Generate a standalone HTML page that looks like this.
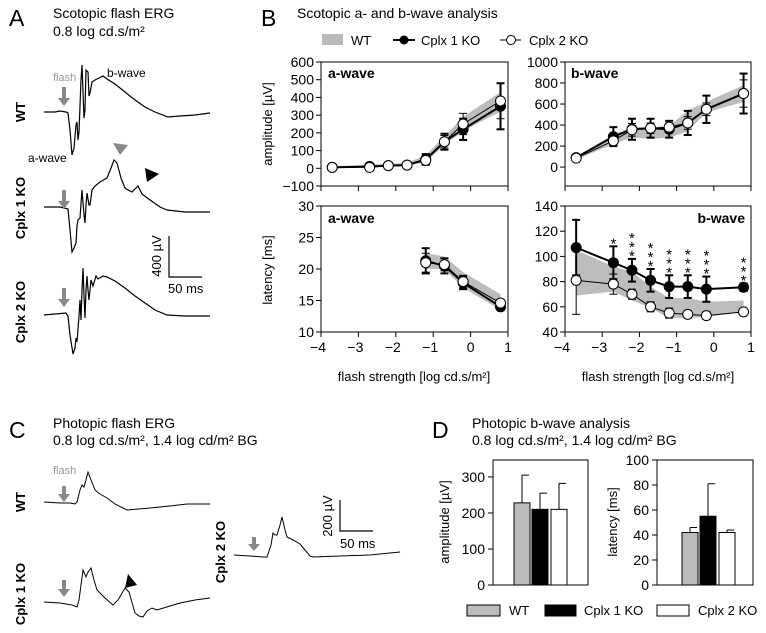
<!DOCTYPE html>
<html><head><meta charset="utf-8">
<style>
html,body{margin:0;padding:0;background:#fff;}
svg{display:block;font-family:"Liberation Sans",Arial,sans-serif;}
</style></head>
<body>
<svg id="fig" width="766" height="633" viewBox="0 0 766 633" xmlns="http://www.w3.org/2000/svg">
<!-- Panel A -->
<g>
<text x="9" y="26" font-size="23">A</text>
<text x="53" y="18" font-size="14">Scotopic flash ERG</text>
<text x="53" y="36" font-size="14">0.8 log cd.s/m²</text>
<text x="53" y="81" font-size="11" fill="#999">flash</text>
<text x="107" y="77" font-size="12">b-wave</text>
<text x="28" y="162" font-size="12">a-wave</text>
<text transform="translate(25,112) rotate(-90)" text-anchor="middle" font-size="13" font-weight="bold">WT</text>
<text transform="translate(25,208) rotate(-90)" text-anchor="middle" font-size="13" font-weight="bold">Cplx 1 KO</text>
<text transform="translate(25,312) rotate(-90)" text-anchor="middle" font-size="13" font-weight="bold">Cplx 2 KO</text>
<polyline fill="none" stroke="#000" stroke-width="1.2" points="44,112 55,112 60,111 66,112 68,113 70,130 72,155 74,148 76,125 77,122 78,140 79,132 81,80 82,65 84,118 85,110 86,70 88,72 89,96 90,93 92,82 95,80 99,78 103,76 107,79 115,84 125,92 135,100 145,107 155,112 168,117 180,116 195,115 210,113"/>
<polyline fill="none" stroke="#000" stroke-width="1.2" points="44,207 60,207 68,209 70,230 72,252 74,248 76,243 77,226 78,220 80,218 82,190 84,215 85,223 86,205 87,193 89,205 90,205 92,190 95,186 100,182 107,178 111,168 114,160 117,163 121,178 125,188 128,190 132,192 135,189 138,186 142,194 150,200 160,207 167,210 185,212 210,212"/>
<polyline fill="none" stroke="#000" stroke-width="1.2" points="44,315 55,314 66,313 68,316 70,335 73,354 75,348 76,338 77,342 79,316 80,300 81,320 82,290 83,268 84,296 85,318 86,290 87,276 88,290 89,300 91,280 93,286 96,276 98,279 103,276 107,277 115,281 125,288 135,296 145,303 155,310 167,315 185,316 210,316"/>
<g fill="#888">
<path d="M62,87 h4 v11 h4 l-6,8 l-6,-8 h4z"/>
<path d="M62,190 h4 v11 h4 l-6,8 l-6,-8 h4z"/>
<path d="M62,288 h4 v11 h4 l-6,8 l-6,-8 h4z"/>
</g>
<path d="M113,143 l15,2 l-8,10z" fill="#888"/>
<path d="M145,168 l14,6 l-12,8z" fill="#000"/>
<path d="M169,236 V277 H202" fill="none" stroke="#000" stroke-width="1.2"/>
<text transform="translate(161,256) rotate(-90)" text-anchor="middle" font-size="13">400 µV</text>
<text x="168" y="293" font-size="13">50 ms</text>
</g>

<!-- Panel B -->
<g id="panelB">
<text x="261" y="26" font-size="23">B</text>
<text x="297" y="18" font-size="14">Scotopic a- and b-wave analysis</text>
<g>
<rect x="322" y="34" width="21" height="11" fill="#bbb"/>
<text x="351" y="45" font-size="13">WT</text>
<line x1="393" y1="40" x2="415" y2="40" stroke="#000" stroke-width="2"/>
<circle cx="404" cy="40" r="4.5" fill="#000"/>
<text x="421" y="45" font-size="13">Cplx 1 KO</text>
<line x1="500" y1="40" x2="521" y2="40" stroke="#000" stroke-width="1"/>
<circle cx="511" cy="40" r="4.5" fill="#fff" stroke="#000"/>
<text x="529" y="45" font-size="13">Cplx 2 KO</text>
</g>
<text transform="translate(272,124) rotate(-90)" text-anchor="middle" font-size="13">amplitude [µV]</text>
<text transform="translate(272,270) rotate(-90)" text-anchor="middle" font-size="13">latency [ms]</text>
<text x="414" y="381" text-anchor="middle" font-size="13">flash strength [log cd.s/m²]</text>
<text x="658" y="381" text-anchor="middle" font-size="13">flash strength [log cd.s/m²]</text>
</g>

<!-- Panel C -->
<g>
<text x="9" y="438" font-size="23">C</text>
<text x="53" y="428" font-size="14">Photopic flash ERG</text>
<text x="53" y="445" font-size="14">0.8 log cd.s/m², 1.4 log cd/m² BG</text>
<text x="53" y="474" font-size="11" fill="#999">flash</text>
<text transform="translate(25,502) rotate(-90)" text-anchor="middle" font-size="13" font-weight="bold">WT</text>
<text transform="translate(25,594) rotate(-90)" text-anchor="middle" font-size="13" font-weight="bold">Cplx 1 KO</text>
<text transform="translate(225,552) rotate(-90)" text-anchor="middle" font-size="13" font-weight="bold">Cplx 2 KO</text>
<polyline fill="none" stroke="#000" stroke-width="1" points="44,502 60,503 70,503 75,504 77,502 80,490 82,485 84,487 86,480 88,472 91,480 95,490 100,494 107,498 115,504 127,510 150,508 170,506 187,504 210,504"/>
<polyline fill="none" stroke="#000" stroke-width="1" points="44,602 60,603 72,605 77,607 79,600 83,570 86,577 88,572 91,568 94,580 97,590 105,598 113,605 118,600 125,588 129,592 135,613 139,616 143,617 147,611 152,608 157,610 170,606 180,603 195,600 210,598"/>
<polyline fill="none" stroke="#000" stroke-width="1" points="234,555 250,556 263,557 267,557 271,545 273,533 275,535 277,535 280,525 282,517 285,530 287,537 293,540 300,544 305,550 310,556 313,557 340,556 370,555 400,552"/>
<g fill="#888">
<path d="M62,486 h4 v8 h4 l-6,8 l-6,-8 h4z"/>
<path d="M62,580 h4 v9 h4 l-6,8 l-6,-8 h4z"/>
<path d="M252,537 h4 v7 h4 l-6,7 l-6,-7 h4z"/>
</g>
<path d="M128,574 l9,11 l-12,3z" fill="#000"/>
<path d="M340,500 V531 H373" fill="none" stroke="#000" stroke-width="1.2"/>
<text transform="translate(332,516) rotate(-90)" text-anchor="middle" font-size="13">200 µV</text>
<text x="340" y="548" font-size="13">50 ms</text>
</g>

<!-- Panel D -->
<g id="panelD">
<text x="432" y="438" font-size="23">D</text>
<text x="472" y="428" font-size="14">Photopic b-wave analysis</text>
<text x="472" y="445" font-size="14">0.8 log cd.s/m², 1.4 log cd/m² BG</text>
<text transform="translate(449,522) rotate(-90)" text-anchor="middle" font-size="13">amplitude [µV]</text>
<text transform="translate(617,522) rotate(-90)" text-anchor="middle" font-size="13">latency [ms]</text>
<g>
<rect x="467" y="605" width="33" height="11" fill="#bbb" stroke="#000"/>
<text x="509" y="615" font-size="13">WT</text>
<rect x="545" y="605" width="31" height="11" fill="#000" stroke="#000"/>
<text x="584" y="615" font-size="13">Cplx 1 KO</text>
<rect x="657" y="605" width="32" height="11" fill="#fff" stroke="#000"/>
<text x="698" y="615" font-size="13">Cplx 2 KO</text>
</g>
</g>
</svg>
<script>
// ---- Panel B data ----
const xFlash = [-3.7, -2.7, -2.2, -1.7, -1.2, -0.7, -0.2, 0.8];
const xTicks = [-4, -3, -2, -1, 0, 1];
const xTickLabels = ["\u22124", "\u22123", "\u22122", "\u22121", "0", "1"];
// a-wave amplitude
const aAmpC1 = [5, 10, 15, 18, 50, 150, 220, 350];
const aAmpC1Err = [5, 10, 8, 8, 30, 45, 60, 130];
const aAmpC2 = [5, 5, 15, 18, 45, 150, 250, 380];
const aAmpC2Err = [5, 8, 8, 8, 25, 35, 60, 100];
const aAmpWtHi = [10, 20, 25, 30, 75, 180, 290, 430];
const aAmpWtLo = [0, 5, 10, 15, 35, 130, 210, 320];
const aAmpTicks = [600, 500, 400, 300, 200, 100, 0, -100];
// b-wave amplitude
const bAmpC1 = [90, 290, 360, 370, 360, 420, 550, 700];
const bAmpC1Err = [20, 90, 100, 90, 80, 115, 130, 190];
const bAmpC2 = [85, 250, 355, 370, 380, 420, 550, 700];
const bAmpC2Err = [20, 40, 60, 50, 40, 60, 60, 130];
const bAmpWtHi = [100, 310, 380, 380, 390, 540, 620, 780];
const bAmpWtLo = [70, 220, 280, 270, 280, 340, 520, 620];
const bAmpTicks = [1000, 800, 600, 400, 200, 0];
// a-wave latency (last four intensities)
const aLatX = [-1.2, -0.7, -0.2, 0.8];
const aLatC1 = [21.3, 20.5, 17.8, 14.0];
const aLatC1Err = [2.0, 1.2, 1.0, 0.5];
const aLatC2 = [21.0, 20.7, 18.0, 14.6];
const aLatC2Err = [1.5, 1.0, 1.0, 0.5];
const aLatWtHi = [22.5, 22.0, 19.5, 16.0];
const aLatWtLo = [20.0, 20.0, 17.0, 13.5];
const aLatTicks = [30, 25, 20, 15, 10];
// b-wave latency
const bLatC1 = [107, 95, 89, 81, 76, 76, 74, 75.5];
const bLatC1Err = [22, 13, 9, 9, 9, 9, 10, 3];
const bLatC2 = [81, 78, 70, 60, 55, 54, 53, 56];
const bLatC2Err = [27, 8, 4, 4, 4, 3, 3, 2];
const bLatWtHi = [105, 92, 88, 76, 67, 67, 64, 65];
const bLatWtLo = [69, 72, 65, 59, 51, 51, 52, 56];
const bLatStars = [0, 1, 3, 3, 3, 3, 3, 3];
const bLatTicks = [140, 120, 100, 80, 60, 40];
// ---- Panel D data ----
const dGroups = ["WT", "Cplx 1 KO", "Cplx 2 KO"];
const dAmp = [228, 210, 210];
const dAmpErr = [77, 45, 72];
const dLat = [42, 55, 42];
const dLatErr = [4, 26, 2];
const dAmpTicks = [0, 100, 200, 300];
const dLatTicks = [0, 20, 40, 60, 80, 100];

const NS = "http://www.w3.org/2000/svg";
const svg = document.getElementById('fig');
function mk(tag, attrs, parent) {
  const e = document.createElementNS(NS, tag);
  for (const k in attrs) e.setAttribute(k, attrs[k]);
  (parent || svg).appendChild(e);
  return e;
}
function axis(x0, x1, y0, y1, xmin, xmax, ymin, ymax) {
  return {
    sx: v => x0 + (v - xmin) / (xmax - xmin) * (x1 - x0),
    sy: v => y1 - (v - ymin) / (ymax - ymin) * (y1 - y0),
    x0, x1, y0, y1
  };
}
function frame(ax, yTicks, showXLabels, name) {
  const g = mk('g', {});
  
  
  const r = mk('rect', {x: ax.x0, y: ax.y0, width: ax.x1 - ax.x0, height: ax.y1 - ax.y0, fill: 'none', stroke: '#000', 'stroke-width': 1}, g);
  
  
  yTicks.forEach(t => {
    const y = ax.sy(t);
    mk('line', {x1: ax.x0 - 5, x2: ax.x0, y1: y, y2: y, stroke: '#000'}, g);
    const tx = mk('text', {x: ax.x0 - 7, y: y + 5, 'text-anchor': 'end', 'font-size': 14}, g);
    tx.textContent = t < 0 ? '\u2212' + Math.abs(t) : String(t);
    
    
  });
  xTicks.forEach((t, i) => {
    const x = ax.sx(t);
    mk('line', {x1: x, x2: x, y1: ax.y1, y2: ax.y1 + 5, stroke: '#000'}, g);
    if (showXLabels) {
      const tx = mk('text', {x: x - (t < 0 ? 3 : 0), y: ax.y1 + 20, 'text-anchor': 'middle', 'font-size': 14}, g);
      tx.textContent = xTickLabels[i];
      
      
    }
  });
  return g;
}
function band(ax, xs, hi, lo, name) {
  let pts = xs.map((x, i) => ax.sx(x) + ',' + ax.sy(hi[i]));
  for (let i = xs.length - 1; i >= 0; i--) pts.push(ax.sx(xs[i]) + ',' + ax.sy(lo[i]));
  const p = mk('polygon', {points: pts.join(' '), fill: '#bdbdbd'});
  
  
}
function series(ax, xs, ys, errs, filled, name) {
  const g = mk('g', {});
  
  
  const sw = filled ? 2 : 1;
  mk('polyline', {points: xs.map((x, i) => ax.sx(x) + ',' + ax.sy(ys[i])).join(' '), fill: 'none', stroke: '#000', 'stroke-width': sw}, g);
  xs.forEach((x, i) => {
    const cx = ax.sx(x), t = ax.sy(ys[i] + errs[i]), b = ax.sy(ys[i] - errs[i]);
    mk('line', {x1: cx, x2: cx, y1: t, y2: b, stroke: '#000', 'stroke-width': sw}, g);
    mk('line', {x1: cx - 4, x2: cx + 4, y1: t, y2: t, stroke: '#000', 'stroke-width': sw}, g);
    mk('line', {x1: cx - 4, x2: cx + 4, y1: b, y2: b, stroke: '#000', 'stroke-width': sw}, g);
  });
  xs.forEach((x, i) => {
    const c = mk('circle', {cx: ax.sx(x), cy: ax.sy(ys[i]), r: 5, fill: filled ? '#000' : '#fff', stroke: '#000', 'stroke-width': 1}, g);
    
    
  });
}
// Panel B subplots
const axAA = axis(321, 508, 62, 186, -4, 1, -100, 600);
const axBA = axis(565, 751, 62, 186, -4, 1, -180, 1000);
const axAL = axis(321, 508, 206, 332, -4, 1, 10, 30);
const axBL = axis(565, 751, 206, 332, -4, 1, 40, 140);

band(axAA, xFlash, aAmpWtHi, aAmpWtLo, 'a-amp-wt-band');
series(axAA, xFlash, aAmpC1, aAmpC1Err, true, 'a-amp-cplx1');
series(axAA, xFlash, aAmpC2, aAmpC2Err, false, 'a-amp-cplx2');
frame(axAA, aAmpTicks, false, 'a-amplitude-plot');

band(axBA, xFlash, bAmpWtHi, bAmpWtLo, 'b-amp-wt-band');
series(axBA, xFlash, bAmpC1, bAmpC1Err, true, 'b-amp-cplx1');
series(axBA, xFlash, bAmpC2, bAmpC2Err, false, 'b-amp-cplx2');
frame(axBA, bAmpTicks, false, 'b-amplitude-plot');

band(axAL, aLatX, aLatWtHi, aLatWtLo, 'a-lat-wt-band');
series(axAL, aLatX, aLatC1, aLatC1Err, true, 'a-lat-cplx1');
series(axAL, aLatX, aLatC2, aLatC2Err, false, 'a-lat-cplx2');
frame(axAL, aLatTicks, true, 'a-latency-plot');

band(axBL, xFlash, bLatWtHi, bLatWtLo, 'b-lat-wt-band');
series(axBL, xFlash, bLatC1, bLatC1Err, true, 'b-lat-cplx1');
series(axBL, xFlash, bLatC2, bLatC2Err, false, 'b-lat-cplx2');
frame(axBL, bLatTicks, true, 'b-latency-plot');

bLatStars.forEach((n, i) => {
  for (let k = 0; k < n; k++) {
    const s = mk('text', {x: axBL.sx(xFlash[i]), y: axBL.sy(bLatC1[i] + bLatC1Err[i]) + 2 - k * 9, 'text-anchor': 'middle', 'font-size': 15});
    s.textContent = '*';
    
    
  }
});

function label(x, y, txt, anchor, name) {
  const t = mk('text', {x, y, 'font-size': 14, 'font-weight': 'bold', 'text-anchor': anchor});
  t.textContent = txt;
  
  
}
label(328, 78, 'a-wave', 'start', 'a-amp-title');
label(571, 78, 'b-wave', 'start', 'b-amp-title');
label(328, 223, 'a-wave', 'start', 'a-lat-title');
label(745, 223, 'b-wave', 'end', 'b-lat-title');

// Panel D bar charts
const barFills = ['#bbb', '#000', '#fff'];
function barChart(ax, vals, errs, ticks, barX, name) {
  const g = mk('g', {});
  
  
  mk('rect', {x: ax.x0, y: ax.y0, width: ax.x1 - ax.x0, height: ax.y1 - ax.y0, fill: 'none', stroke: '#000'}, g);
  ticks.forEach(t => {
    const y = ax.sy(t);
    mk('line', {x1: ax.x0 - 5, x2: ax.x0, y1: y, y2: y, stroke: '#000'}, g);
    const tx = mk('text', {x: ax.x0 - 8, y: y + 5, 'text-anchor': 'end', 'font-size': 14}, g);
    tx.textContent = String(t);
    
    
  });
  vals.forEach((v, i) => {
    const cx = barX[i] + 8, top = ax.sy(v + errs[i]);
    mk('line', {x1: cx, x2: cx, y1: ax.sy(v), y2: top, stroke: '#000'}, g);
    mk('line', {x1: cx, x2: cx + 7, y1: top, y2: top, stroke: '#000'}, g);
    const b = mk('rect', {x: barX[i], y: ax.sy(v), width: 16, height: ax.y1 - ax.sy(v), fill: barFills[i], stroke: '#000'}, g);
    
    
  });
}
const axDA = axis(493, 588, 460, 585, 0, 1, 0, 347);
const axDL = axis(657, 753, 460, 585, 0, 1, 0, 100);
barChart(axDA, dAmp, dAmpErr, dAmpTicks, [514, 532, 551], 'd-amplitude-chart');
barChart(axDL, dLat, dLatErr, dLatTicks, [682, 700, 719], 'd-latency-chart');
</script>
</body></html>
